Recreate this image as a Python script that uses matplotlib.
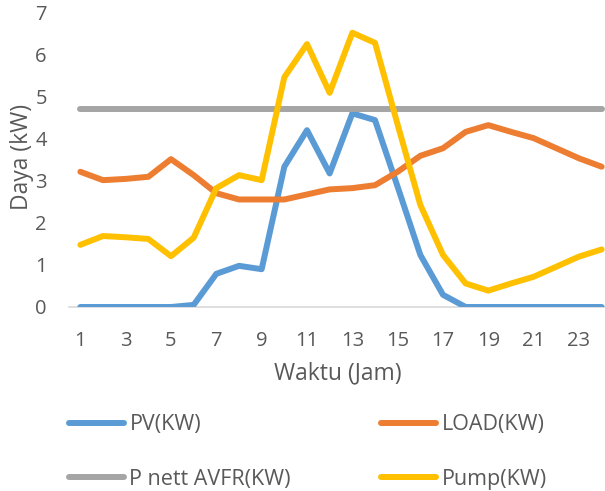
import matplotlib
matplotlib.use("Agg")
import matplotlib.pyplot as plt

hours = list(range(1, 25))
pv = [0, 0, 0, 0, 0, 0.05, 0.79, 0.98, 0.90, 3.34, 4.21, 3.18, 4.61, 4.45, 2.86, 1.24, 0.29, 0, 0, 0, 0, 0, 0, 0]
load = [3.22, 3.02, 3.05, 3.10, 3.52, 3.14, 2.71, 2.56, 2.56, 2.56, 2.68, 2.80, 2.83, 2.90, 3.22, 3.60, 3.78, 4.17, 4.33, 4.17, 4.02, 3.78, 3.54, 3.34]
pnett = [4.71] * 24
pump = [1.48, 1.69, 1.66, 1.62, 1.21, 1.65, 2.83, 3.14, 3.02, 5.47, 6.26, 5.10, 6.53, 6.29, 4.34, 2.43, 1.24, 0.56, 0.39, 0.56, 0.72, 0.96, 1.20, 1.37]
series_names = ["PV(KW)", "LOAD(KW)", "P nett AVFR(KW)", "Pump(KW)"]
colors = ["#5B9BD5", "#ED7D31", "#A5A5A5", "#FFC000"]
xtick_labels = [str(h) for h in range(1, 25, 2)]

plt.rcParams['font.family'] = ['Open Sans', 'DejaVu Sans']
txt = "#595959"
fs_tick = 14.5
fs_label = 16.5
fs_leg = 15.5

fig = plt.figure(figsize=(6.05, 4.91), dpi=100)
ax = fig.add_axes([69/605, 1-307/491, 544/605, 294/491])

lines = []
for data, name, c in zip([pv, load, pnett, pump], series_names, colors):
    l, = ax.plot(hours, data, color=c, lw=4.3, solid_capstyle='round', solid_joinstyle='round', label=name, zorder=3)
    lines.append(l)

ax.set_xlim(0.5, 24.5)
ax.set_ylim(0, 7)
ax.set_yticks(range(0, 8))
ax.set_xticks(range(1, 25, 2))
ax.set_xticklabels(xtick_labels)
for s in ['top', 'right', 'left']:
    ax.spines[s].set_visible(False)
ax.spines['bottom'].set_color('#D9D9D9')
ax.spines['bottom'].set_linewidth(1.2)
ax.spines['bottom'].set_zorder(1)
ax.tick_params(axis='both', length=0, labelsize=fs_tick, colors=txt)
ax.tick_params(axis='y', pad=16)
ax.tick_params(axis='x', pad=17)
ax.set_xlabel("Waktu (Jam)", fontsize=fs_label, color=txt)
ax.set_ylabel("Daya (kW)", fontsize=fs_label, color=txt)
ax.xaxis.set_label_coords((338-69)/544, -(361-307)/294)
ax.yaxis.set_label_coords((34-69)/544, (307-157)/294)

order = [0, 2, 1, 3]
leg = fig.legend(handles=[lines[i] for i in order],
                 labels=[series_names[i] for i in order], ncol=2, loc='upper left',
                 bbox_to_anchor=(50/605, 1-395/491), frameon=False,
                 fontsize=fs_leg, handlelength=2.56, handletextpad=0.23,
                 columnspacing=4.2, labelspacing=1.55, labelcolor=txt)

fig.savefig("out.png", dpi=100)
